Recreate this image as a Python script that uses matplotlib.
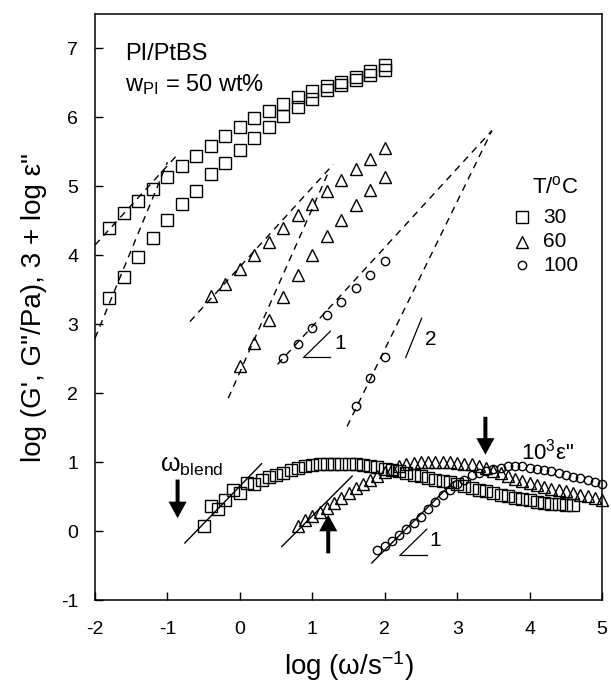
import matplotlib
matplotlib.use("Agg")
import matplotlib.pyplot as plt
from matplotlib.patches import FancyArrow

# ---- data ----
# 30 C: G'' (upper) and G' (lower) squares
g30_x = [-1.8, -1.6, -1.4, -1.2, -1.0, -0.8, -0.6, -0.4, -0.2, 0.0,
         0.2, 0.4, 0.6, 0.8, 1.0, 1.2, 1.4, 1.6, 1.8, 2.0]
g30_g2 = [4.39, 4.61, 4.79, 4.96, 5.14, 5.30, 5.44, 5.59, 5.73, 5.86,
          5.99, 6.10, 6.20, 6.30, 6.39, 6.45, 6.52, 6.59, 6.67, 6.76]
g30_g1 = [3.38, 3.68, 3.98, 4.25, 4.51, 4.74, 4.94, 5.18, 5.34, 5.53,
          5.70, 5.86, 6.02, 6.15, 6.27, 6.40, 6.47, 6.54, 6.61, 6.69]

# 60 C triangles
g60_x2 = [-0.4, -0.2, 0.0, 0.2, 0.4, 0.6, 0.8, 1.0, 1.2, 1.4, 1.6, 1.8, 2.0]
g60_g2 = [3.41, 3.59, 3.80, 4.00, 4.20, 4.39, 4.58, 4.75, 4.93, 5.09, 5.25, 5.40, 5.55]
g60_x1 = [0.0, 0.2, 0.4, 0.6, 0.8, 1.0, 1.2, 1.4, 1.6, 1.8, 2.0]
g60_g1 = [2.39, 2.73, 3.06, 3.40, 3.71, 4.01, 4.28, 4.52, 4.73, 4.95, 5.13]

# 100 C circles
g100_x2 = [0.6, 0.8, 1.0, 1.2, 1.4, 1.6, 1.8, 2.0]
g100_g2 = [2.51, 2.71, 2.95, 3.13, 3.33, 3.52, 3.71, 3.92]
g100_x1 = [1.6, 1.8, 2.0]
g100_g1 = [1.81, 2.22, 2.53]

# dielectric loss, 3 + log eps''
e30_x = [-0.5, -0.4, -0.3, -0.2, -0.1, 0.0, 0.1, 0.2, 0.3, 0.4, 0.5, 0.6, 0.7,
         0.8, 0.9, 1.0, 1.1, 1.2, 1.3, 1.4, 1.5, 1.6, 1.7, 1.8, 1.9, 2.0,
         2.1, 2.2, 2.3, 2.4, 2.5, 2.6, 2.7, 2.8, 2.9, 3.0, 3.1, 3.2, 3.3,
         3.4, 3.5, 3.6, 3.7, 3.8, 3.9, 4.0, 4.1, 4.2, 4.3, 4.4, 4.5, 4.6]
e30_y = [0.08, 0.37, 0.33, 0.45, 0.60, 0.55, 0.70, 0.69, 0.75, 0.79, 0.81, 0.84, 0.89,
         0.92, 0.94, 0.96, 0.97, 0.98, 0.98, 0.98, 0.98, 0.97, 0.96, 0.95, 0.93, 0.91,
         0.89, 0.87, 0.85, 0.82, 0.80, 0.77, 0.75, 0.73, 0.71, 0.69, 0.66, 0.63, 0.60,
         0.58, 0.56, 0.53, 0.51, 0.49, 0.47, 0.45, 0.43, 0.41, 0.40, 0.39, 0.38, 0.38]

e60_x = [0.8, 0.9, 1.0, 1.1, 1.2, 1.3, 1.4, 1.5, 1.6, 1.7, 1.8, 1.9, 2.0, 2.1,
         2.2, 2.3, 2.4, 2.5, 2.6, 2.7, 2.8, 2.9, 3.0, 3.1, 3.2, 3.3, 3.4, 3.5,
         3.6, 3.7, 3.8, 3.9, 4.0, 4.1, 4.2, 4.3, 4.4, 4.5, 4.6, 4.7, 4.8, 4.9, 5.0]
e60_y = [0.08, 0.17, 0.22, 0.28, 0.34, 0.41, 0.48, 0.55, 0.63, 0.69, 0.75, 0.80, 0.86, 0.91,
         0.95, 0.97, 0.99, 1.00, 1.00, 1.00, 1.00, 1.00, 0.99, 0.98, 0.97, 0.95, 0.92, 0.88,
         0.84, 0.80, 0.76, 0.73, 0.70, 0.67, 0.64, 0.62, 0.60, 0.58, 0.56, 0.53, 0.51, 0.48, 0.45]

e100_x = [1.9, 2.0, 2.1, 2.2, 2.3, 2.4, 2.5, 2.6, 2.7, 2.8, 2.9, 3.0, 3.1, 3.2, 3.3, 3.4,
          3.5, 3.6, 3.7, 3.8, 3.9, 4.0, 4.1, 4.2, 4.3, 4.4, 4.5, 4.6, 4.7, 4.8, 4.9, 5.0]
e100_y = [-0.27, -0.21, -0.14, -0.05, 0.03, 0.12, 0.21, 0.32, 0.42, 0.52, 0.60, 0.68, 0.75,
          0.81, 0.85, 0.88, 0.91, 0.92, 0.94, 0.94, 0.94, 0.92, 0.91, 0.89, 0.87, 0.84,
          0.81, 0.79, 0.77, 0.75, 0.72, 0.68]

# terminal-slope guide lines (x pair, y pair)
dashed_guides = [
    ([-2.0, -0.87], [4.15, 5.45]),   # 30 C G''
    ([-2.0, -1.0], [2.80, 5.35]),    # 30 C G'
    ([-0.69, 1.29], [3.04, 5.32]),   # 60 C G''
    ([-0.16, 1.22], [1.93, 5.20]),   # 60 C G'
    ([0.52, 3.48], [2.42, 5.81]),    # 100 C G''
    ([1.48, 3.48], [1.52, 5.81]),    # 100 C G'
]
solid_guides = [
    ([-0.76, 0.30], [-0.17, 0.98]),
    ([0.58, 1.55], [-0.22, 0.80]),
    ([1.82, 2.95], [-0.46, 0.72]),
]

# omega_blend arrows: x, y_start, y_end
arrows = [(-0.86, 0.75, 0.19), (1.22, -0.32, 0.24), (3.39, 1.66, 1.11)]

x_ticks = [-2, -1, 0, 1, 2, 3, 4, 5]
y_ticks = [-1, 0, 1, 2, 3, 4, 5, 6, 7]

plt.rcParams.update({
    "font.family": "Liberation Sans",
    "mathtext.fontset": "custom",
    "mathtext.rm": "Liberation Sans",
    "mathtext.it": "Liberation Sans:italic",
    "mathtext.default": "regular",
    "axes.linewidth": 1.1,
})

fig = plt.figure(figsize=(6.11, 6.88), dpi=100)
ax = fig.add_axes([0.1555, 0.1275, 0.8298, 0.8522])

sq = dict(marker="s", ms=8, mfc="none", mec="black", mew=1.0, ls="none")
tri = dict(marker="^", ms=8, mfc="none", mec="black", mew=1.0, ls="none")
cir = dict(marker="o", ms=6, mfc="none", mec="black", mew=1.0, ls="none")

for xs, ys in dashed_guides:
    ax.plot(xs, ys, color="black", lw=1.0, ls=(0, (5, 4)))
for xs, ys in solid_guides:
    ax.plot(xs, ys, color="black", lw=1.0)

ax.plot(g30_x, g30_g2, **sq)
ax.plot(g30_x, g30_g1, **sq)
ax.plot(g60_x2, g60_g2, **tri)
ax.plot(g60_x1, g60_g1, **tri)
ax.plot(g100_x2, g100_g2, **cir)
ax.plot(g100_x1, g100_g1, **cir)

ax.plot(e30_x, e30_y, clip_on=False, **sq)
ax.plot(e60_x, e60_y, clip_on=False, **tri)
ax.plot(e100_x, e100_y, clip_on=False, **cir)

for x0, y0, y1 in arrows:
    ax.add_patch(FancyArrow(x0, y0, 0, y1 - y0, width=0.055, head_width=0.25,
                            head_length=0.24, length_includes_head=True,
                            color="black", lw=0))

# slope triangles
ax.plot([0.88, 1.25], [2.52, 2.90], color="black", lw=0.9)
ax.plot([1.25, 0.88], [2.52, 2.52], color="black", lw=0.9)
ax.text(1.30, 2.72, "1", fontsize=15, ha="left", va="center")
ax.plot([2.29, 2.51], [2.52, 3.09], color="black", lw=0.9)
ax.text(2.56, 2.78, "2", fontsize=15, ha="left", va="center")
ax.plot([2.21, 2.58], [-0.35, 0.03], color="black", lw=0.9)
ax.plot([2.21, 2.58], [-0.35, -0.35], color="black", lw=0.9)
ax.text(2.62, -0.13, "1", fontsize=15, ha="left", va="center")

# annotations
ax.text(-1.59, 6.92, "PI/PtBS", fontsize=17, ha="left", va="center")
ax.text(-1.59, 6.48, r"w$_{\rm PI}$ = 50 wt%", fontsize=17, ha="left", va="center")
ax.text(-1.10, 0.95, r"ω$_{\rm blend}$", fontsize=18, ha="left", va="center")
ax.text(3.88, 1.15, "10$^{3}$ε\"", fontsize=16, ha="left", va="center")

# manual legend
ax.text(4.03, 4.98, r"T/$^{\rm o}$C", fontsize=16, ha="left", va="center")
legend_y = [4.55, 4.20, 3.86]
legend_lbl = ["30", "60", "100"]
for st, yy, lb in zip((sq, tri, cir), legend_y, legend_lbl):
    ax.plot([3.89], [yy], **st)
    ax.text(4.19, yy, lb, fontsize=15, ha="left", va="center")

ax.set_xlim(-2, 5)
ax.set_ylim(-1, 7.5)
ax.set_xticks(x_ticks)
ax.set_yticks(y_ticks)
ax.set_xticklabels([str(v) for v in x_ticks])
ax.set_yticklabels([str(v) for v in y_ticks])
ax.tick_params(direction="in", length=6, width=1.0, labelsize=14)
ax.tick_params(axis="x", pad=15)
ax.tick_params(axis="y", pad=12)
ax.set_xlabel(r"log ($\omega$/s$^{-1}$)", fontsize=20, labelpad=8)
ax.set_ylabel("log (G', G\"/Pa), 3 + log ε\"", fontsize=20, labelpad=10)

fig.savefig("out.png", dpi=100)
